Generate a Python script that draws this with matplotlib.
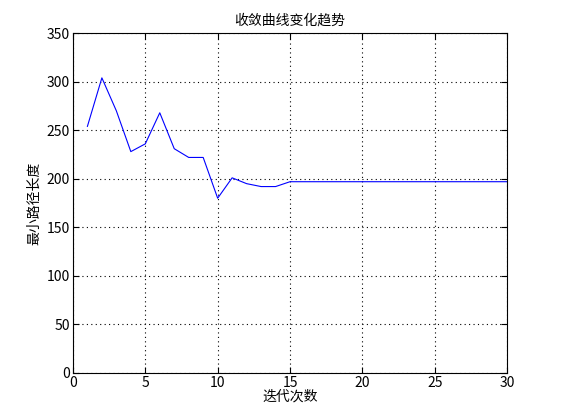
import matplotlib
matplotlib.use("Agg")
import matplotlib.pyplot as plt

plt.rcParams["font.family"] = ["Noto Sans CJK SC", "DejaVu Sans"]

# iteration vs. shortest path length
iterations = list(range(1, 31))
path_len = [254, 304, 270, 228, 236, 268, 231, 222, 222, 180,
            201, 195, 192, 192, 197, 197, 197, 197, 197, 197,
            197, 197, 197, 197, 197, 197, 197, 197, 197, 197]

x_ticks = [0, 5, 10, 15, 20, 25, 30]
y_ticks = [0, 50, 100, 150, 200, 250, 300, 350]

fig = plt.figure(figsize=(5.61, 4.20), dpi=100)
ax = fig.add_axes([0.130, 0.112, 0.774, 0.809])

ax.plot(iterations, path_len, color="#0000ff", linewidth=0.8)

ax.set_xlim(0, 30)
ax.set_ylim(0, 350)
ax.set_xticks(x_ticks)
ax.set_yticks(y_ticks)
ax.grid(True, color="black", linestyle=(0, (1, 3)), linewidth=0.8)
ax.tick_params(direction="in", top=True, right=True, labelsize=10, length=4, pad=2)
for s in ax.spines.values():
    s.set_linewidth(0.8)

ax.set_title("收敛曲线变化趋势", fontsize=10, pad=6)
ax.set_xlabel("迭代次数", fontsize=10, labelpad=0)
ax.set_ylabel("最小路径长度", fontsize=10, labelpad=4)

fig.savefig("out.png", dpi=100)
